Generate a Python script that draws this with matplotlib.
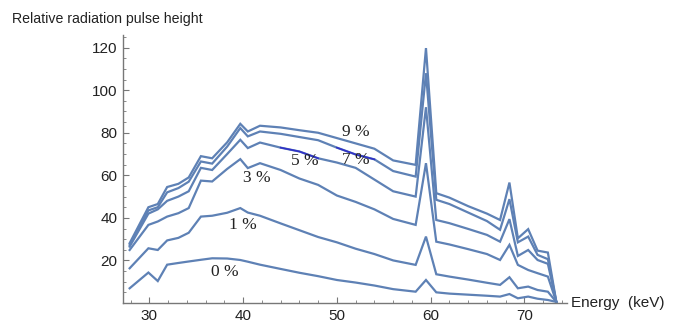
import matplotlib
matplotlib.use("Agg")
import matplotlib.pyplot as plt
import numpy as np
from matplotlib.ticker import MultipleLocator

# energia (keV)
energy = [27.9, 29.9, 30.9, 31.9, 33.1, 34.2, 35.5, 36.7, 38.3, 39.7, 40.5, 41.8,
          44.0, 46.0, 48.0, 50.0, 52.0, 54.0, 56.0, 58.4, 59.5, 60.6, 62.0, 64.0,
          66.0, 67.4, 68.4, 69.3, 70.4, 71.4, 72.5, 73.4]

h0 = [6.9, 14.3, 10.3, 18.0, 18.8, 19.5, 20.3, 21.0, 20.9, 20.2, 19.4, 18.0,
      16.0, 14.2, 12.6, 10.8, 9.6, 8.2, 6.5, 5.3, 10.8, 5.0, 4.4, 3.9,
      3.4, 3.0, 4.2, 2.2, 3.0, 2.0, 1.4, 0.5]
h1 = [16.3, 25.7, 24.9, 29.4, 30.6, 33.0, 40.6, 41.0, 42.4, 44.6, 42.5, 41.0,
      37.4, 34.2, 31.0, 28.5, 25.5, 23.0, 20.0, 17.9, 31.2, 13.5, 12.4, 11.0,
      9.5, 8.5, 12.1, 6.9, 7.7, 6.1, 5.3, 0.5]
h3 = [24.9, 36.7, 38.3, 40.6, 42.2, 44.6, 57.5, 57.1, 63.0, 67.6, 63.4, 65.7,
      62.5, 58.5, 55.5, 50.5, 47.5, 44.0, 39.5, 36.7, 65.7, 28.8, 27.5, 25.3,
      23.0, 20.2, 27.3, 17.9, 15.5, 14.0, 12.4, 0.5]
h5 = [26.5, 42.0, 44.0, 48.0, 50.0, 52.5, 63.5, 62.5, 70.0, 76.7, 72.8, 75.4,
      73.0, 71.2, 68.0, 66.0, 63.5, 58.0, 52.5, 50.0, 92.0, 39.0, 37.5, 34.8,
      32.0, 28.8, 39.4, 22.1, 24.9, 20.2, 18.4, 0.5]
h7 = [27.3, 43.5, 45.0, 52.0, 54.0, 57.0, 66.5, 65.5, 73.5, 82.2, 78.3, 80.6,
      79.5, 78.0, 76.5, 73.0, 69.8, 67.5, 62.0, 59.4, 108.0, 48.5, 46.5, 42.5,
      38.5, 34.4, 48.8, 28.5, 31.2, 22.6, 20.6, 0.5]
h9 = [28.1, 45.0, 46.5, 54.5, 56.0, 59.0, 69.0, 68.0, 75.5, 84.2, 80.6, 83.3,
      82.5, 81.2, 80.0, 77.5, 75.0, 72.5, 67.0, 64.9, 119.8, 51.6, 49.5, 45.5,
      42.0, 39.0, 56.6, 30.4, 34.7, 24.6, 23.7, 0.5]

series = [h0, h1, h3, h5, h7, h9]
labels = ["0 %", "1 %", "3 %", "5 %", "7 %", "9 %"]
label_pos = [(38.1, 14.6), (40.0, 36.7), (41.5, 58.6), (46.6, 66.6), (52.0, 67.3), (52.0, 80.5)]

x_ticks = [30, 40, 50, 60, 70]
y_ticks = [20, 40, 60, 80, 100, 120]

kolor = "#5E81B5"
axis_color = "#777777"

fig = plt.figure(figsize=(6.86, 3.23), dpi=100)
ax = fig.add_axes([0.179, 0.062, 0.647, 0.830])

E = np.array(energy)
for h in series:
    ax.plot(E, h, color=kolor, lw=1.6, solid_joinstyle="miter")

# ciemniejsze fragmenty krzywych 5 % i 7 %
m5 = (E >= 44.0) & (E <= 48.0)
ax.plot(E[m5], np.array(h5)[m5], color="#3030C8", lw=1.2)
m7 = (E >= 50.0) & (E <= 54.0)
ax.plot(E[m7], np.array(h7)[m7], color="#3030C8", lw=1.2)

for txt, (ex, vy) in zip(labels, label_pos):
    ax.text(ex, vy, txt, fontsize=12.5, family="Liberation Serif",
            ha="center", va="center", color="#222222")

ax.set_xlim(27.17, 74.5)
ax.set_ylim(0, 126)
for s in ["top", "right"]:
    ax.spines[s].set_visible(False)
for s in ["left", "bottom"]:
    ax.spines[s].set_color(axis_color)
    ax.spines[s].set_linewidth(1.0)

ax.set_xticks(x_ticks)
ax.set_yticks(y_ticks)
ax.xaxis.set_minor_locator(MultipleLocator(2))
ax.yaxis.set_minor_locator(MultipleLocator(5))
ax.tick_params(which="both", direction="in", color=axis_color, labelsize=11,
               labelcolor="#222222")
ax.tick_params(which="major", length=4, width=0.8, pad=4)
ax.tick_params(which="minor", length=2.5, width=0.6)
for t in ax.get_xticklabels() + ax.get_yticklabels():
    t.set_family("Liberation Sans")

ax.text(1.01, 0, "Energy  (keV)", transform=ax.transAxes, fontsize=11,
        family="Liberation Sans", ha="left", va="center", color="#222222")
fig.text(12 / 686, 1 - 19 / 323, "Relative radiation pulse height", fontsize=10.2,
         family="Liberation Sans", ha="left", va="center", color="#222222")

fig.savefig("out.png", dpi=100)
